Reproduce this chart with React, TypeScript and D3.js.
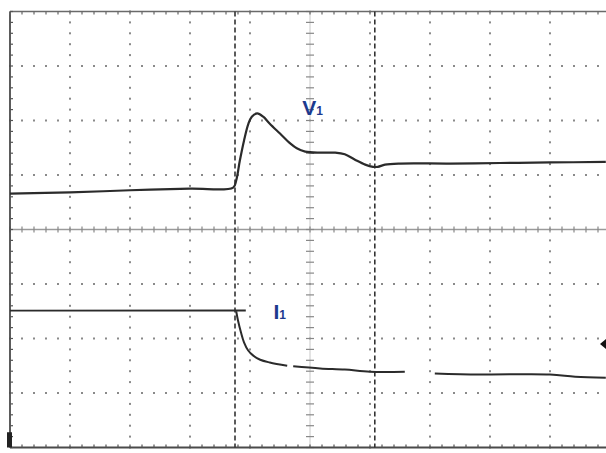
import React from "react";
import * as d3 from "d3";

// Oscilloscope screen: 10 horizontal divisions, 8 vertical divisions
const X_DIVS = [0, 10];
const Y_DIVS = [-4, 4];
const CURSOR_X = [3.75, 6.08];

// V1 trace (division units)
const V1_X = [0, 1, 2, 3, 3.72, 3.77, 3.83, 3.9, 3.97, 4.03, 4.12, 4.22, 4.33, 4.5, 4.67, 4.78, 4.92, 5.17, 5.42, 5.58, 5.75, 5.92, 6.05, 6.13, 6.25, 6.5, 7.33, 8.17, 9, 9.93];
const V1_Y = [0.66, 0.68, 0.72, 0.75, 0.77, 0.9, 1.26, 1.63, 1.93, 2.07, 2.13, 2.07, 1.94, 1.76, 1.58, 1.49, 1.43, 1.41, 1.41, 1.38, 1.28, 1.19, 1.15, 1.15, 1.19, 1.21, 1.21, 1.22, 1.23, 1.24];

// I1 trace, drawn as separate segments (gaps in the original trace)
const I1_SEG_A_X = [0, 3.93];
const I1_SEG_A_Y = [-1.49, -1.486];
const I1_SEG_B_X = [3.77, 3.8, 3.85, 3.9, 3.97, 4.05, 4.17, 4.33, 4.62];
const I1_SEG_B_Y = [-1.5, -1.67, -1.89, -2.07, -2.22, -2.31, -2.39, -2.44, -2.5];
const I1_SEG_C_X = [4.72, 5.17, 5.58, 6.0, 6.58];
const I1_SEG_C_Y = [-2.51, -2.55, -2.57, -2.61, -2.61];
const I1_SEG_D_X = [7.08, 7.83, 9.0, 9.42, 9.93];
const I1_SEG_D_Y = [-2.64, -2.66, -2.66, -2.7, -2.72];

const W = 606;
const H = 453;

export default function App() {
  const x = d3.scaleLinear().domain(X_DIVS).range([10, 610]);
  const y = d3.scaleLinear().domain(Y_DIVS).range([447.5, 11.5]);

  const line = d3
    .line<[number, number]>()
    .x((d) => x(d[0]))
    .y((d) => y(d[1]))
    .curve(d3.curveCatmullRom.alpha(0.5));

  const zip = (xs: number[], ys: number[]) =>
    xs.map((v, i) => [v, ys[i]] as [number, number]);

  const majorX = d3.range(0, 11, 1);
  const majorY = d3.range(-4, 5, 1);
  const minorX = d3.range(0, 10.01, 0.2);
  const minorY = d3.range(-4, 4.01, 0.2);

  const dotColor = "#8a8a8a";
  const traceColor = "#2b2b2b";
  const labelColor = "#1c3a8e";

  return (
    <svg
      width={W}
      height={H}
      style={{ position: "absolute", left: 0, top: 0, background: "#fff" }}
      fontFamily="Liberation Sans, Arial, sans-serif"
    >
      <rect x={0} y={0} width={W} height={H} fill="#fff" />
      {/* dotted grid */}
      <g>
        {majorX.map((gx) =>
          gx === 5 || gx === 0
            ? null
            : minorY.map((my, i) => (
                <rect
                  key={`vx${gx}-${i}`}
                  x={x(gx) - 1}
                  y={y(my) - 1}
                  width={2}
                  height={2}
                  fill={dotColor}
                />
              ))
        )}
        {majorY.map((gy) =>
          gy === 0 || gy === 4 || gy === -4
            ? null
            : minorX.map((mx, i) => (
                <rect
                  key={`hy${gy}-${i}`}
                  x={x(mx) - 1}
                  y={y(gy) - 1}
                  width={2}
                  height={2}
                  fill={dotColor}
                />
              ))
        )}
      </g>
      {/* center axes */}
      <line x1={x(0)} x2={W} y1={y(0)} y2={y(0)} stroke="#9a9a9a" strokeWidth={1.5} />
      <line x1={x(5)} x2={x(5)} y1={y(4)} y2={y(-4)} stroke="#c8c8c8" strokeWidth={1} />
      {minorY.map((my, i) => (
        <line
          key={`cty${i}`}
          x1={x(5) - 4}
          x2={x(5) + 4}
          y1={y(my)}
          y2={y(my)}
          stroke="#888"
          strokeWidth={1.2}
        />
      ))}
      {minorX.map((mx, i) => (
        <line
          key={`ctx${i}`}
          x1={x(mx)}
          x2={x(mx)}
          y1={y(0) - 3}
          y2={y(0) + 3}
          stroke="#888"
          strokeWidth={1.2}
        />
      ))}
      {/* frame */}
      <line x1={x(0)} x2={W} y1={y(4)} y2={y(4)} stroke="#6a6a6a" strokeWidth={1.5} />
      <line x1={x(0)} x2={W} y1={y(-4)} y2={y(-4)} stroke="#4a4a4a" strokeWidth={1.8} />
      <line x1={x(0)} x2={x(0)} y1={y(4)} y2={y(-4)} stroke="#4a4a4a" strokeWidth={1.8} />
      {minorX.map((mx, i) => (
        <g key={`ft${i}`}>
          <line x1={x(mx)} x2={x(mx)} y1={y(4)} y2={y(4) + 3} stroke="#666" strokeWidth={1.2} />
          <line x1={x(mx)} x2={x(mx)} y1={y(-4) - 3} y2={y(-4)} stroke="#555" strokeWidth={1.2} />
        </g>
      ))}
      {minorY.map((my, i) => (
        <line key={`fl${i}`} x1={x(0)} x2={x(0) + 3} y1={y(my)} y2={y(my)} stroke="#555" strokeWidth={1.2} />
      ))}
      {/* cursors */}
      {CURSOR_X.map((cx, i) => (
        <line
          key={`cur${i}`}
          x1={x(cx)}
          x2={x(cx)}
          y1={y(4)}
          y2={y(-4)}
          stroke="#333"
          strokeWidth={1.6}
          strokeDasharray="5,3"
        />
      ))}
      {/* traces */}
      <path d={line(zip(V1_X, V1_Y)) || ""} fill="none" stroke={traceColor} strokeWidth={2.2} strokeLinejoin="round" />
      {[
        zip(I1_SEG_A_X, I1_SEG_A_Y),
        zip(I1_SEG_B_X, I1_SEG_B_Y),
        zip(I1_SEG_C_X, I1_SEG_C_Y),
        zip(I1_SEG_D_X, I1_SEG_D_Y),
      ].map((seg, i) => (
        <path key={`i1${i}`} d={line(seg) || ""} fill="none" stroke={traceColor} strokeWidth={i === 0 ? 1.8 : 2} strokeLinejoin="round" />
      ))}
      {/* markers */}
      <path d={`M${W - 6},${y(-2.1)} L${W},${y(-2.1) - 5} L${W},${y(-2.1) + 5} Z`} fill="#111" />
      <rect x={7} y={y(-3.72)} width={5} height={y(-4) - y(-3.72)} fill="#222" />
      {/* labels */}
      <text x={x(4.87)} y={y(2.11)} fill={labelColor} fontWeight="bold" fontSize={21}>
        V<tspan fontSize={12}>1</tspan>
      </text>
      <text x={x(4.39)} y={y(-1.65)} fill={labelColor} fontWeight="bold" fontSize={21}>
        I<tspan fontSize={12}>1</tspan>
      </text>
    </svg>
  );
}
